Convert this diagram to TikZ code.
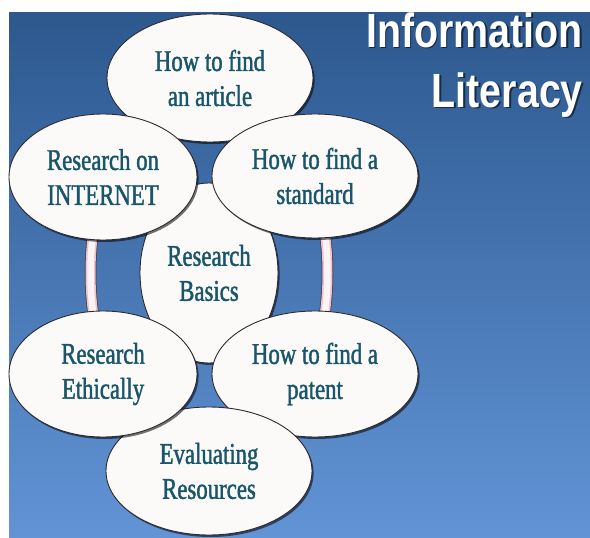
\documentclass[tikz,border=0pt]{standalone}
\usepackage{fontspec}
\setmainfont{Liberation Serif}[FakeStretch=0.78]
\newfontfamily\bubblefont{Liberation Serif}[FakeStretch=0.76, FakeBold=1.4]
\newfontfamily\titlefont{Liberation Sans}[FakeStretch=0.82]
\usetikzlibrary{shapes.geometric,shadows}

\definecolor{bgtop}{RGB}{44,88,142}
\definecolor{bgmid}{RGB}{58,114,184}
\definecolor{bgbot}{RGB}{98,148,214}
\definecolor{inktext}{RGB}{26,86,106}
\definecolor{bubblefill}{RGB}{251,250,249}
\definecolor{bubbleline}{RGB}{45,42,48}
\definecolor{ringline}{RGB}{70,60,70}
\definecolor{ringpink}{RGB}{236,196,205}
\definecolor{ringcore}{RGB}{253,243,245}

\tikzset{
  bubble/.style={ellipse, draw=bubbleline, line width=0.9pt, fill=bubblefill,
    inner sep=0pt, align=center, text=inktext,
    font=\bubblefont\fontsize{30}{35}\selectfont,
    drop shadow={shadow xshift=1.6pt, shadow yshift=-2pt, opacity=0.55, fill=black}},
  titletext/.style={text=white, font=\titlefont\bfseries\fontsize{48}{58}\selectfont,
    inner sep=0pt, anchor=base east},
  titleshadow/.style={titletext, text=black, opacity=0.55},
}

\begin{document}
\begin{tikzpicture}[x=1pt,y=-1pt]
  \useasboundingbox (0,0) rectangle (590,538);
  \fill[white] (0,0) rectangle (590,538);
  % blue backdrop
  \shade[top color=bgtop, middle color=bgmid, bottom color=bgbot] (9,12) rectangle (590,538);

  % ring linking the outer bubbles
  \draw[line width=11.5pt, ringline] (209,273) ellipse [x radius=118.5pt, y radius=190pt];
  \draw[line width=10pt, ringpink] (209,273) ellipse [x radius=118.5pt, y radius=190pt];
  \draw[line width=6.5pt, ringcore] (209,273) ellipse [x radius=118.5pt, y radius=190pt];

  % bubbles, centre first, then clockwise from the top
  \node[bubble, minimum width=138pt, minimum height=180pt] (basics) at (209,273) {Research\\Basics};
  \node[bubble, minimum width=206pt, minimum height=128pt] (article) at (210,78) {How to find\\an article};
  \node[bubble, minimum width=206pt, minimum height=124pt] (standard) at (315,176) {How to find a\\standard};
  \node[bubble, minimum width=206pt, minimum height=126pt] (patent) at (315,374) {How to find a\\patent};
  \node[bubble, minimum width=206pt, minimum height=128pt] (evaluating) at (209,471) {Evaluating\\Resources};
  \node[bubble, minimum width=188pt, minimum height=126pt] (ethically) at (103,374) {Research\\Ethically};
  \node[bubble, minimum width=188pt, minimum height=126pt] (internet) at (103,177) {Research on\\INTERNET};

  % heading
  \node[titleshadow] (t1s) at (584.5,48.5) {Information};
  \node[titleshadow] (t2s) at (584.5,108.5) {Literacy};
  \node[titletext] (t1) at (583,47) {Information};
  \node[titletext] (t2) at (583,107) {Literacy};
\end{tikzpicture}
\end{document}
